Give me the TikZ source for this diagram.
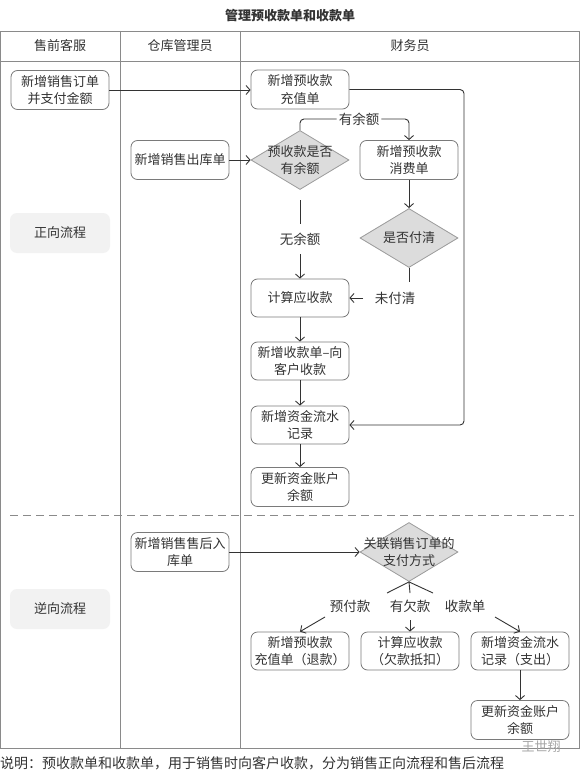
\documentclass[tikz,border=0pt]{standalone}
\usepackage{fontspec}
\setmainfont{Noto Sans CJK SC}
\usetikzlibrary{arrows.meta,shapes.geometric,calc}
\definecolor{txt}{HTML}{333333}
\definecolor{linec}{HTML}{333333}
\definecolor{boxb}{HTML}{7A7A7A}
\definecolor{tblc}{HTML}{8A8A8A}
\definecolor{laneg}{HTML}{F2F2F2}
\definecolor{decf}{HTML}{DCDCDC}
\definecolor{decb}{HTML}{9A9A9A}
\begin{document}
\begin{tikzpicture}[x=1pt,y=-1pt,
  tf/.style={font=\fontsize{13}{17.5}\selectfont, text=txt},
  box/.style={tf, draw=boxb, line width=0.8pt, rounded corners=6.5pt, minimum width=98pt, minimum height=39pt, align=center, inner sep=1pt},
  lanebox/.style={tf, fill=laneg, rounded corners=7pt, minimum width=100pt, minimum height=40pt},
  dec/.style={diamond, draw=decb, fill=decf, line width=0.8pt, minimum width=98pt, minimum height=59pt, inner sep=0pt},
  dtxt/.style={tf, align=center, inner sep=0pt},
  lbl/.style={font=\fontsize{13.5}{16}\selectfont, text=txt, fill=white, inner sep=2pt},
  conn/.style={draw=linec, line width=0.9pt},
  arr/.style={conn, -{Straight Barb[length=4pt,width=9pt,line width=0.9pt]}},
  tbl/.style={draw=tblc, line width=0.9pt}
]
\useasboundingbox (0,0) rectangle (580,773);
\fill[white] (0,0) rectangle (580,773);

% title
\node[font=\fontsize{13}{16}\selectfont\bfseries, text=txt] (title) at (290,16) {管理预收款单和收款单};

% table
\draw[tbl] (0.5,31) rectangle (579,748);
\draw[tbl] (0.5,61) -- (579,61);
\draw[tbl] (120,31) -- (120,748);
\draw[tbl] (240,31) -- (240,748);
\node[tf] (h1) at (60,46) {售前客服};
\node[tf] (h2) at (180,46) {仓库管理员};
\node[tf] (h3) at (410,46) {财务员};

% dashed separator
\draw[tblc, line width=0.9pt, dash pattern=on 8pt off 5pt] (10,515) -- (574,515);

% lanes
\node[lanebox] (fwd) at (60,233) {正向流程};
\node[lanebox] (rev) at (60,609) {逆向流程};

% forward nodes
\node[box] (order) at (60,90) {新增销售订单\\并支付金额};
\node[box] (out) at (180,160) {新增销售出库单};
\node[box] (recharge) at (300,89.5) {新增预收款\\充值单};
\node[dec, label={[dtxt]center:预收款是否\\有余额}] (d1) at (300,160) {};
\node[box] (consume) at (409,160) {新增预收款\\消费单};
\node[dec, label={[dtxt]center:是否付清}] (d2) at (409,238) {};
\node[box, minimum height=38pt] (calc) at (300,298) {计算应收款};
\node[box, minimum height=38pt] (collect) at (300,361) {新增收款单–向\\客户收款};
\node[box, minimum height=38pt] (flow) at (300,425) {新增资金流水\\记录};
\node[box] (bal) at (300,487) {更新资金账户\\余额};

% forward connectors
\draw[arr] (order.east) -- (order.east -| recharge.west);
\draw[arr] (out.east) -- (out.east -| d1.west);
\coordinate (rc) at (464,89.5);
\draw[arr, rounded corners=4pt] (recharge.east) -- (rc) |- (flow.east);

\node[lbl] (yes) at (359,119) {有余额};
\draw[conn, rounded corners=4pt] (d1.north) |- (yes.west);
\draw[arr, rounded corners=4pt] (yes.east) -| (consume.north);

\node[lbl] (no) at (300,239) {无余额};
\coordinate (d1s) at (300,200);
\coordinate (noa) at (300,224);
\coordinate (nob) at (300,254);
\draw[conn] (d1s) -- (noa);
\draw[arr] (nob) -- (calc.north);

\draw[arr] (consume.south) -- (d2.north);

\node[lbl] (unpaid) at (395,298) {未付清};
\coordinate (d2e) at (409,282);
\coordinate (upw) at (363,298);
\draw[conn] (d2.south) -- (d2e);
\draw[arr] (upw) -- (calc.east);

\draw[arr] (calc.south) -- (collect.north);
\draw[arr] (collect.south) -- (flow.north);
\draw[arr] (flow.south) -- (bal.north);

% reverse nodes
\node[box] (ret) at (180,552) {新增销售售后入\\库单};
\node[dec, label={[dtxt]center:关联销售订单的\\支付方式}] (d3) at (409,552) {};
\node[lbl] (pre) at (350,606) {预付款};
\node[lbl] (owe) at (410,606) {有欠款};
\node[lbl] (rec) at (465,606) {收款单};
\node[box, minimum height=38pt] (r1) at (300,651) {新增预收款\\充值单（退款）};
\node[box, minimum height=38pt] (r2) at (410,651) {计算应收款\\（欠款抵扣）};
\node[box, minimum height=38pt] (r3) at (520,651) {新增资金流水\\记录（支出）};
\node[box] (r4) at (520,720) {更新资金账户\\余额};

% reverse connectors
\draw[arr] (ret.east) -- (ret.east -| d3.west);
\coordinate (sa) at (387,593);
\coordinate (sb) at (410,593);
\coordinate (sc) at (433,593);
\draw[conn] (d3.south) -- (sa);
\draw[conn] (d3.south) -- (sb);
\draw[conn] (d3.south) -- (sc);
\coordinate (ta) at (325,617);
\coordinate (tb) at (410,620);
\coordinate (tc) at (495,617);
\draw[arr] (ta) -- (r1.north);
\draw[arr] (tb) -- (r2.north);
\draw[arr] (tc) -- (r3.north);
\draw[arr] (r3.south) -- (r4.north);

% footnote and watermark
\node[anchor=west, font=\fontsize{14}{16}\selectfont, text=txt, inner sep=0pt] (note) at (0,763) {说明：预收款单和收款单，用于销售时向客户收款，分为销售正向流程和售后流程};
\node[font=\fontsize{13}{15}\selectfont, text=black!35, inner sep=1pt] (wm) at (541,747) {王世翔};
\end{tikzpicture}
\end{document}
